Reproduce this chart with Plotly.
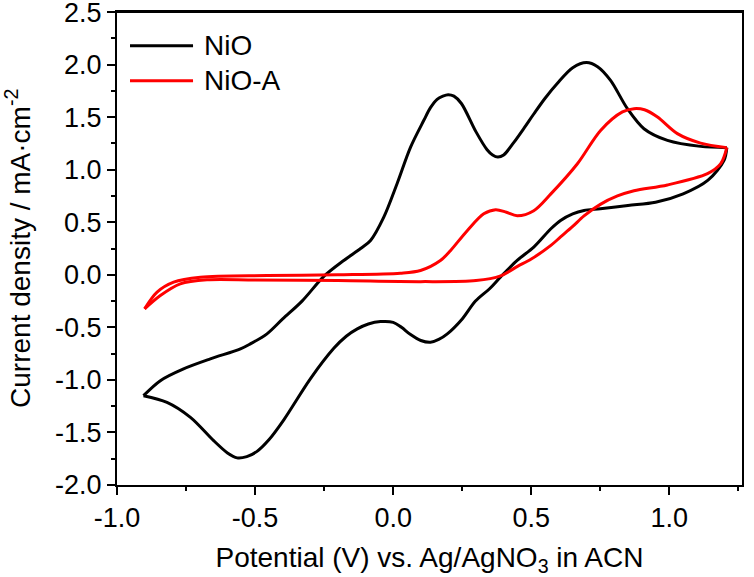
import plotly.graph_objects as go

# ---------------- data ----------------
# NiO, upper branch, swept from +1.21 V down to -0.90 V
nio_up_x = [1.208, 1.113, 0.993, 0.908, 0.848, 0.787, 0.740, 0.700, 0.650, 0.594,
            0.550, 0.509, 0.475, 0.437, 0.400, 0.379, 0.360, 0.340, 0.300, 0.247,
            0.220, 0.199, 0.180, 0.159, 0.135, 0.111, 0.063, 0.014, -0.034, -0.082,
            -0.118, -0.179, -0.251, -0.330, -0.400, -0.457, -0.517, -0.553, -0.662, -0.759,
            -0.843, -0.904]
nio_up_y = [1.210, 1.222, 1.279, 1.390, 1.581, 1.850, 1.980, 2.019, 1.970, 1.820,
            1.680, 1.530, 1.400, 1.260, 1.140, 1.120, 1.140, 1.190, 1.360, 1.630,
            1.700, 1.714, 1.700, 1.670, 1.590, 1.470, 1.215, 0.867, 0.549, 0.327,
            0.250, 0.136, -0.015, -0.250, -0.420, -0.562, -0.657, -0.705, -0.800, -0.895,
            -1.007, -1.150]
# NiO, lower branch, swept from -0.90 V back to +1.21 V
nio_dn_x = [-0.904, -0.819, -0.734, -0.650, -0.600, -0.565, -0.530, -0.493, -0.450, -0.396,
            -0.300, -0.215, -0.170, -0.130, -0.090, -0.046, 0.000, 0.030, 0.063, 0.100,
            0.135, 0.165, 0.196, 0.250, 0.298, 0.350, 0.389, 0.450, 0.509, 0.571,
            0.606, 0.650, 0.691, 0.750, 0.850, 0.950, 1.050, 1.140, 1.198, 1.208]
nio_dn_y = [-1.150, -1.213, -1.356, -1.578, -1.695, -1.742, -1.730, -1.680, -1.570, -1.380,
            -0.990, -0.700, -0.585, -0.515, -0.468, -0.445, -0.452, -0.500, -0.569, -0.625,
            -0.642, -0.615, -0.562, -0.420, -0.250, -0.130, -0.020, 0.140, 0.263, 0.438,
            0.517, 0.580, 0.612, 0.628, 0.660, 0.690, 0.770, 0.900, 1.089, 1.210]

# NiO-A, upper branch
nioa_up_x = [1.208, 1.113, 1.029, 0.957, 0.910, 0.872, 0.830, 0.751, 0.667, 0.571,
             0.509, 0.449, 0.410, 0.371, 0.328, 0.268, 0.208, 0.171, 0.099, 0.026,
             -0.200, -0.457, -0.698, -0.795, -0.855, -0.900]
nioa_up_y = [1.210, 1.253, 1.343, 1.501, 1.570, 1.581, 1.550, 1.374, 1.057, 0.770,
             0.610, 0.562, 0.595, 0.620, 0.580, 0.420, 0.232, 0.136, 0.041, 0.015,
             0.000, -0.007, -0.023, -0.070, -0.165, -0.324]
# NiO-A, lower branch
nioa_dn_x = [-0.900, -0.843, -0.771, -0.674, -0.500, -0.200, 0.100, 0.300, 0.389, 0.450,
             0.500, 0.571, 0.606, 0.650, 0.691, 0.750, 0.812, 0.872, 0.993, 1.138,
             1.186, 1.208]
nioa_dn_y = [-0.324, -0.197, -0.086, -0.048, -0.050, -0.055, -0.065, -0.055, -0.010, 0.080,
             0.150, 0.280, 0.360, 0.460, 0.560, 0.670, 0.750, 0.800, 0.855, 0.962,
             1.057, 1.210]

series_names = ["NiO", "NiO-A"]
series_colors = ["#000000", "#ff0000"]

x_ticks = [-1.0, -0.5, 0.0, 0.5, 1.0]
y_ticks = [-2.0, -1.5, -1.0, -0.5, 0.0, 0.5, 1.0, 1.5, 2.0, 2.5]

# ---------------- figure ----------------
FONT = "Liberation Sans, Arial, sans-serif"
W, H = 754, 577
# plot frame in window pixels: left 117, right 741.7, top 12, bottom 485
ML, MT = 117, 12
MR = W - 741.7
MB = H - 485
PW, PH = W - ML - MR, H - MT - MB

fig = go.Figure()
branches = [
    (nio_up_x, nio_up_y, 0), (nio_dn_x, nio_dn_y, 0),
    (nioa_up_x, nioa_up_y, 1), (nioa_dn_x, nioa_dn_y, 1),
]
for bx, by, k in branches:
    fig.add_trace(go.Scatter(
        x=bx, y=by, mode="lines", name=series_names[k], legendgroup=series_names[k],
        showlegend=False, cliponaxis=False,
        line=dict(color=series_colors[k], width=3, shape="spline", smoothing=0.9),
    ))

def px2paper(px, py):
    return (px - ML) / PW, (H - MB - py) / PH

# frame top edge (drawn explicitly)
shapes = [dict(type="line", xref="paper", yref="paper", x0=0, x1=1, y0=1, y1=1,
               line=dict(color="black", width=2), layer="above")]
annots = []
for k, py in enumerate([45.7, 80.7]):
    x0, y0 = px2paper(130, py)
    x1, _ = px2paper(193, py)
    shapes.append(dict(type="line", xref="paper", yref="paper", x0=x0, x1=x1, y0=y0, y1=y0,
                       line=dict(color=series_colors[k], width=3)))
    tx, _ = px2paper(202, py)
    annots.append(dict(xref="paper", yref="paper", x=tx, y=y0, text=series_names[k],
                       showarrow=False, xanchor="left", yanchor="middle",
                       font=dict(family=FONT, size=28, color="black")))

yt_x, yt_y = px2paper(18, 248)
annots.append(dict(xref="paper", yref="paper", x=yt_x, y=yt_y,
                   text="Current density / mA·cm<sup>-2</sup>", textangle=-90,
                   showarrow=False, xanchor="center", yanchor="middle",
                   font=dict(family=FONT, size=28, color="black")))

axis_common = dict(
    showline=True, linecolor="black", linewidth=2, mirror=True,
    ticks="outside", ticklen=8, tickwidth=2, tickcolor="black",
    showgrid=False, zeroline=False, automargin=False, ticklabeloverflow="allow",
    tickfont=dict(family=FONT, size=27, color="black"),
)

fig.update_layout(
    width=W, height=H,
    margin=dict(l=ML, r=MR, t=MT, b=MB, pad=0),
    paper_bgcolor="white", plot_bgcolor="white",
    showlegend=False,
    shapes=shapes, annotations=annots,
    xaxis=dict(**axis_common, range=[-1.0, 1.263], tickvals=x_ticks,
               ticktext=[f"{v:.1f}" for v in x_ticks],
               minor=dict(ticks="outside", ticklen=4, tickwidth=2, tickcolor="black", dtick=0.25),
               title=dict(text="Potential (V) vs. Ag/AgNO<sub>3</sub> in ACN",
                          font=dict(family=FONT, size=28, color="black"), standoff=23)),
    yaxis=dict(**axis_common, range=[-2.0, 2.5005], tickvals=y_ticks,
               ticktext=[f"{v:.1f}" for v in y_ticks],
               minor=dict(ticks="outside", ticklen=4, tickwidth=2, tickcolor="black", dtick=0.25)),
)

fig.write_html("out.html", config={"displayModeBar": False},
               post_script="document.body.style.margin='0px';")
